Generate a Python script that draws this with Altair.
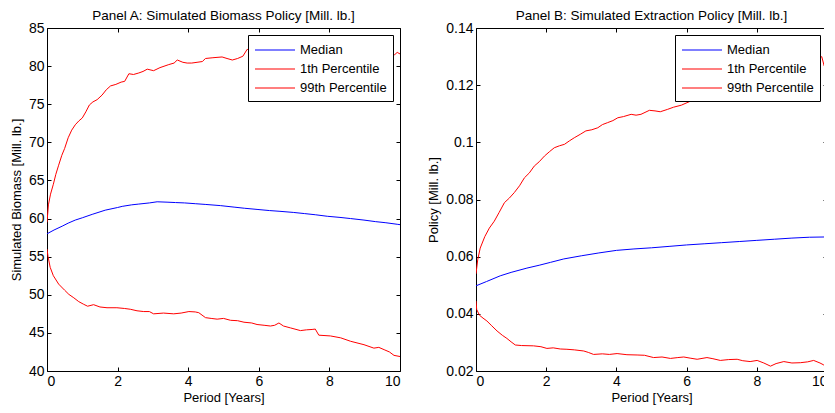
import altair as alt
import pandas as pd

SERIES = ["Median", "1th Percentile", "99th Percentile"]
COLORS = ["#0000FF", "#FF0000", "#FF0000"]

# ---------------- Panel A: biomass ----------------
a_up_t = [0, 0.04, 0.1, 0.18, 0.25, 0.33, 0.42, 0.5, 0.6, 0.7, 0.8, 0.9, 1.0, 1.1, 1.2, 1.3, 1.42, 1.56, 1.68, 1.8,
          1.95, 2.1, 2.2, 2.32, 2.45, 2.6, 2.72, 2.84, 3.02, 3.2, 3.45, 3.6, 3.69, 3.85, 3.97, 4.1, 4.25, 4.4, 4.49,
          4.7, 4.96, 5.1, 5.25, 5.4, 5.55, 5.67, 5.8, 6.2, 6.8, 7.5, 8.2, 8.9, 9.5, 9.85, 9.92, 10]
a_up_v = [59.5, 61.8, 63.2, 64.5, 65.8, 67.0, 68.3, 69.2, 70.6, 71.6, 72.3, 72.8, 73.2, 74.0, 74.9, 75.3, 75.6, 76.2,
          76.9, 77.4, 77.6, 77.9, 78.0, 79.0, 78.9, 79.1, 79.3, 79.6, 79.4, 79.8, 80.2, 80.4, 80.8, 80.5, 80.4, 80.4,
          80.5, 80.6, 81.0, 81.1, 81.2, 81.0, 80.8, 81.0, 81.3, 82.2, 82.0, 82.2, 82.3, 82.0, 82.2, 81.9, 81.8, 81.5,
          81.8, 81.6]
a_med_t = [0, 0.2, 0.43, 0.6, 0.8, 1.0, 1.28, 1.65, 2.0, 2.13, 2.4, 2.6, 2.9, 3.12, 3.4, 3.64, 3.9, 4.2, 4.5, 4.91,
           5.3, 5.6, 5.95, 6.3, 6.6, 6.99, 7.3, 7.6, 7.94, 8.3, 8.6, 8.98, 9.3, 9.6, 9.92, 10]
a_med_v = [58.0, 58.5, 59.0, 59.4, 59.8, 60.1, 60.55, 61.1, 61.45, 61.6, 61.8, 61.9, 62.05, 62.2, 62.15, 62.1, 62.05,
           61.95, 61.85, 61.7, 61.5, 61.35, 61.2, 61.05, 60.95, 60.8, 60.65, 60.5, 60.3, 60.15, 60.0, 59.8, 59.6,
           59.45, 59.25, 59.2]
a_lo_t = [0, 0.03, 0.09, 0.18, 0.33, 0.5, 0.62, 0.76, 0.9, 1.04, 1.15, 1.32, 1.5, 1.7, 1.98, 2.2, 2.36, 2.55, 2.74,
          2.9, 3.02, 3.3, 3.59, 3.8, 4.02, 4.2, 4.3, 4.49, 4.65, 4.82, 5.0, 5.2, 5.4, 5.58, 5.8, 5.95, 6.15, 6.33,
          6.45, 6.57, 6.7, 6.9, 7.18, 7.35, 7.51, 7.6, 7.7, 8.03, 8.32, 8.6, 8.98, 9.26, 9.4, 9.55, 9.7, 9.83, 10]
a_lo_v = [56.0, 55.0, 53.6, 52.5, 51.4, 50.6, 50.05, 49.6, 49.1, 48.75, 48.5, 48.7, 48.4, 48.3, 48.3, 48.2, 48.1,
          47.9, 47.8, 47.8, 47.5, 47.6, 47.5, 47.6, 47.8, 47.75, 47.65, 47.0, 46.9, 46.8, 46.9, 46.65, 46.6, 46.4,
          46.3, 46.1, 46.0, 45.9, 46.0, 46.3, 45.9, 45.65, 45.3, 45.4, 45.45, 45.5, 44.7, 44.6, 44.35, 43.9, 43.45,
          43.0, 43.1, 42.8, 42.5, 42.05, 41.9]

# ---------------- Panel B: extraction ----------------
b_up_t = [0, 0.05, 0.12, 0.25, 0.38, 0.52, 0.66, 0.81, 0.95, 1.09, 1.24, 1.38, 1.52, 1.66, 1.8, 1.95, 2.1, 2.23,
          2.38, 2.52, 2.66, 2.8, 2.97, 3.13, 3.3, 3.47, 3.6, 3.75, 3.9, 4.04, 4.2, 4.42, 4.56, 4.7, 4.94, 5.1, 5.25,
          5.45, 5.63, 5.85, 6.11, 6.35, 6.58, 6.8, 7.06, 7.2, 7.39, 7.7, 8.2, 8.8, 9.4, 9.85, 9.92, 10]
b_up_v = [0.054, 0.059, 0.063, 0.067, 0.070, 0.0724, 0.0755, 0.0789, 0.0805, 0.0824, 0.0848, 0.0876, 0.0893,
          0.0917, 0.0932, 0.0952, 0.0968, 0.0981, 0.0988, 0.0993, 0.1005, 0.1016, 0.1028, 0.104, 0.1044, 0.1051,
          0.1062, 0.1069, 0.1076, 0.1086, 0.109, 0.1098, 0.1095, 0.1098, 0.1112, 0.1110, 0.1107, 0.1115, 0.1123,
          0.1130, 0.1144, 0.1148, 0.1156, 0.1160, 0.1165, 0.1158, 0.1162, 0.118, 0.12, 0.122, 0.125, 0.130, 0.1267,
          0.128]
b_med_t = [0, 0.3, 0.69, 1.0, 1.45, 1.8, 2.12, 2.5, 3.0, 3.5, 4.0, 4.5, 5.0, 5.5, 6.0, 6.5, 7.0, 7.5, 8.0, 8.5, 9.0,
           9.5, 10]
b_med_v = [0.0498, 0.0513, 0.0533, 0.0545, 0.056, 0.057, 0.058, 0.0592, 0.0603, 0.0613, 0.0622, 0.0627, 0.0631,
           0.0636, 0.0641, 0.0645, 0.0649, 0.0653, 0.0657, 0.0661, 0.0665, 0.0668, 0.0669]
b_lo_t = [0, 0.02, 0.1, 0.2, 0.31, 0.45, 0.6, 0.75, 0.88, 1.0, 1.12, 1.3, 1.64, 1.85, 2.02, 2.2, 2.4, 2.59, 2.8,
          3.07, 3.2, 3.35, 3.6, 3.8, 4.02, 4.3, 4.59, 4.8, 5.06, 5.3, 5.54, 5.75, 5.92, 6.1, 6.3, 6.58, 6.75, 6.96,
          7.2, 7.44, 7.6, 7.81, 8.01, 8.2, 8.39, 8.55, 8.77, 9.0, 9.24, 9.45, 9.62, 9.8, 9.91, 10]
b_lo_v = [0.0445, 0.0415, 0.0395, 0.0385, 0.0375, 0.0358, 0.034, 0.0325, 0.0314, 0.0302, 0.0291, 0.0289, 0.0288,
          0.0285, 0.0279, 0.0281, 0.0277, 0.0276, 0.0274, 0.027, 0.0265, 0.0258, 0.026, 0.0258, 0.0261, 0.0257,
          0.0256, 0.0255, 0.0247, 0.0249, 0.0244, 0.0247, 0.0249, 0.0245, 0.0241, 0.0247, 0.0243, 0.0237, 0.024,
          0.0241, 0.0236, 0.0233, 0.0237, 0.0228, 0.0217, 0.0226, 0.0233, 0.0228, 0.0229, 0.0232, 0.0237, 0.0228,
          0.0221, 0.0225]

x_ticks = [0, 2, 4, 6, 8, 10]
a_yticks = [40, 45, 50, 55, 60, 65, 70, 75, 80, 85]
b_yticks = [0.02, 0.04, 0.06, 0.08, 0.1, 0.12, 0.14]

FONT = "Liberation Sans"
TK = 4


def frame(med, lo, up):
    rows = []
    for name, (ts, vs) in zip(SERIES, [med, lo, up]):
        for t, v in zip(ts, vs):
            rows.append({"t": t, "v": v, "series": name})
    return pd.DataFrame(rows)


def ax(**kw):
    base = dict(labelFont=FONT, titleFont=FONT, labelFontSize=14, titleFontSize=13, labelColor="black",
                titleColor="black", titleFontWeight="normal", tickColor="black", tickWidth=1, grid=False,
                domain=False)
    base.update(kw)
    return alt.Axis(**base)


def panel(df, title, ytitle, ydom, yticks, yfmt, w):
    xs = alt.Scale(domain=[0, 10], nice=False, zero=False)
    ys = alt.Scale(domain=ydom, nice=False, zero=False)
    lines = alt.Chart(df).mark_line(strokeWidth=1, clip=True).encode(
        x=alt.X("t:Q", scale=xs, axis=ax(title="Period [Years]", values=x_ticks, ticks=False,
                                         labelPadding=3, titlePadding=3)),
        y=alt.Y("v:Q", scale=ys, axis=ax(title=ytitle, values=yticks, format=yfmt, ticks=False,
                                         labelPadding=3, titlePadding=5)),
        color=alt.Color("series:N", scale=alt.Scale(domain=SERIES, range=COLORS), sort=SERIES,
                        legend=alt.Legend(title=None, orient="top-right", offset=7, fillColor="white",
                                          strokeColor="black", padding=6, symbolType="M-1,0H4",
                                          symbolSize=256, symbolStrokeWidth=1.2, labelFontSize=13,
                                          labelFont=FONT, labelColor="black", rowPadding=3,
                                          labelOffset=28)),
        order=alt.Order("t:Q"),
    )
    ticks1 = alt.Chart(df).mark_line(opacity=0).encode(
        x=alt.X("t:Q", scale=xs, axis=ax(orient="bottom", offset=-TK, tickSize=TK, labels=False,
                                         title=None, values=x_ticks)),
        y=alt.Y("v:Q", scale=ys, axis=ax(orient="left", offset=-TK, tickSize=TK, labels=False,
                                         title=None, values=yticks)),
        detail="series:N",
    )
    ticks2 = alt.Chart(df).mark_line(opacity=0).encode(
        x=alt.X("t:Q", scale=xs, axis=ax(orient="top", offset=-TK, tickSize=TK, labels=False,
                                         title=None, values=x_ticks)),
        y=alt.Y("v:Q", scale=ys, axis=ax(orient="right", offset=-TK, tickSize=TK, labels=False,
                                         title=None, values=yticks)),
        detail="series:N",
    )
    return alt.layer(lines, ticks1, ticks2).resolve_axis(x="independent", y="independent").properties(
        width=w, height=343,
        title=alt.TitleParams(title, fontSize=13.5, font=FONT, fontWeight="normal", color="black", offset=-1),
    )


dfa = frame((a_med_t, a_med_v), (a_lo_t, a_lo_v), (a_up_t, a_up_v))
dfb = frame((b_med_t, b_med_v), (b_lo_t, b_lo_v), (b_up_t, b_up_v))

pa = panel(dfa, "Panel A: Simulated Biomass Policy [Mill. lb.]", "Simulated Biomass [Mill. lb.]", [40, 85],
           a_yticks, "~g", 353)
pb = panel(dfb, "Panel B: Simulated Extraction Policy [Mill. lb.]", "Policy [Mill. lb.]", [0.02, 0.14],
           b_yticks, "~g", 351)

chart = alt.hconcat(pa, pb, spacing=76).properties(
    bounds="flush", padding={"left": 1, "top": 0, "right": -4, "bottom": 0}, background="white"
).resolve_scale(color="independent").resolve_legend(color="independent").configure_view(
    stroke="black", strokeWidth=1)

chart.save("out.html", embed_options={"renderer": "svg", "actions": False})
